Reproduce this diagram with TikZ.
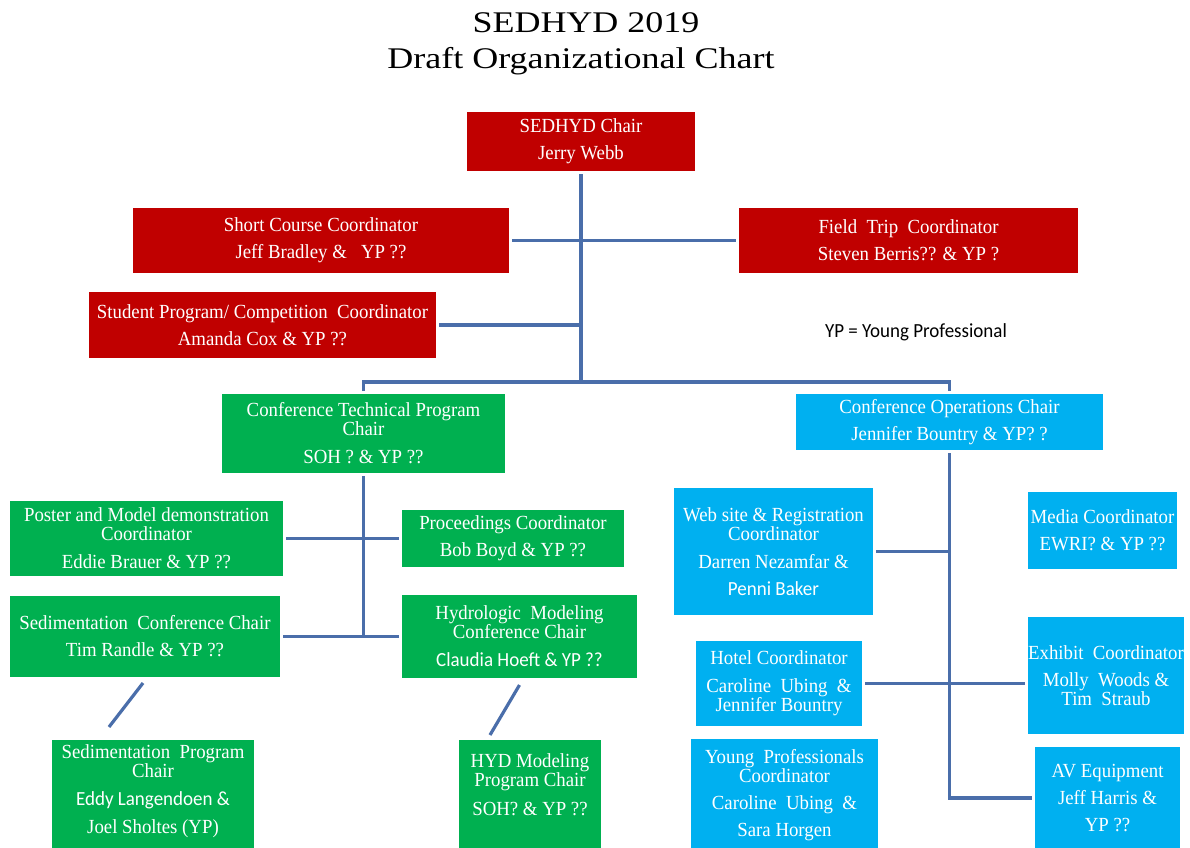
\documentclass[tikz,border=0pt]{standalone}
\usepackage{fontspec}
\setmainfont{Liberation Serif}[FakeStretch=0.94]
\newfontfamily\calibri{Carlito}[FakeStretch=0.95]
\newfontfamily\titlefont{Liberation Serif}[FakeStretch=1.2]
\usepackage{xcolor}
\usepackage{tikz}
\definecolor{chairred}{RGB}{192,0,0}
\definecolor{techgreen}{RGB}{0,176,80}
\definecolor{opsblue}{RGB}{0,176,240}
\definecolor{linkblue}{RGB}{74,110,170}

\begin{document}
\begin{tikzpicture}[x=0.5pt, y=-0.5pt,
    box/.style={rectangle, text=white, align=center, inner sep=0pt, outer sep=1.5pt, font=\fontsize{10}{9.5}\selectfont},
    redbox/.style={box, fill=chairred},
    greenbox/.style={box, fill=techgreen},
    bluebox/.style={box, fill=opsblue},
    link/.style={draw=linkblue, line width=1.6pt}]
  \fill[white] (0,0) rectangle (1190,847);
  \useasboundingbox (0,0) rectangle (1190,847);

  \node[anchor=base, font=\titlefont\fontsize{15}{18}\selectfont] (title1) at (586,32) {SEDHYD 2019};
  \node[anchor=base, font=\titlefont\fontsize{15}{18}\selectfont] (title2) at (581,68) {Draft Organizational Chart};

  \node[redbox, minimum width=114pt, minimum height=29.5pt] (chair) at (581,141.5) {SEDHYD Chair\\[4pt]Jerry Webb};
  \node[redbox, minimum width=188pt, minimum height=32.5pt] (short) at (321,240.5) {Short Course Coordinator\\[4pt]Jeff Bradley \&\ \ \ YP ??};
  \node[redbox, minimum width=169.5pt, minimum height=32.5pt] (field) at (908.5,240.5) {Field\ \ Trip\ \ Coordinator\\[4pt]Steven Berris?? \& YP ?};
  \node[redbox, minimum width=173.5pt, minimum height=33pt] (student) at (262.5,325) {Student Program/ Competition\ \ Coordinator\\[4pt]Amanda Cox \& YP ??};
  \node[anchor=base, font=\calibri\fontsize{10}{12}\selectfont] (legend) at (916,337) {YP = Young Professional};

  \node[greenbox, minimum width=141.5pt, minimum height=39.5pt] (tech) at (363.5,433.5) {Conference Technical Program\\Chair\\[4.5pt]SOH ? \& YP ??};
  \node[greenbox, minimum width=136.5pt, minimum height=37.5pt] (poster) at (146.5,538.5) {Poster and Model demonstration\\Coordinator\\[4.5pt]Eddie Brauer \& YP ??};
  \node[greenbox, minimum width=111pt, minimum height=28.5pt] (proc) at (513,538.5) {Proceedings Coordinator\\[4pt]Bob Boyd \& YP ??};
  \node[greenbox, minimum width=135pt, minimum height=40.5pt] (sedconf) at (145,636.5) {Sedimentation\ \ Conference Chair\\[4pt]Tim Randle \& YP ??};
  \node[greenbox, minimum width=117.5pt, minimum height=41.5pt] (hydconf) at (519.5,636.5) {Hydrologic\ \ Modeling\\Conference Chair\\[4.5pt]{\calibri Claudia Hoeft \& YP ??}};
  \node[greenbox, minimum width=101pt, minimum height=60pt] (sedprog) at (153,800) {Sedimentation\ \ Program\\Chair\\[4.5pt]{\calibri Eddy Langendoen \&}\\[4.5pt]Joel Sholtes (YP)\\[1pt]\mbox{}};
  \node[greenbox, minimum width=71pt, minimum height=60pt] (hydprog) at (530,800) {HYD Modeling\\Program Chair\\[5pt]SOH? \& YP ??\\[6pt]\mbox{}};

  \node[bluebox, minimum width=153.5pt, minimum height=28pt] (ops) at (949.5,422) {Conference Operations Chair\\[4pt]Jennifer Bountry \& YP? ?};
  \node[bluebox, minimum width=99.5pt, minimum height=63.5pt] (web) at (773.5,551.5) {Web site \& Registration\\Coordinator\\[4.5pt]Darren Nezamfar \&\\[4pt]{\calibri Penni Baker}};
  \node[bluebox, minimum width=74.5pt, minimum height=38.5pt] (media) at (1102.5,530.5) {Media Coordinator\\[4pt]EWRI? \& YP ??};
  \node[bluebox, minimum width=83pt, minimum height=42.5pt] (hotel) at (779,683.5) {Hotel Coordinator\\[4.5pt]Caroline\ \ Ubing\ \ \&\\Jennifer Bountry};
  \node[bluebox, minimum width=77pt, minimum height=58.5pt] (exhibit) at (1106,675.5) {Exhibit\ \ Coordinator\\[4pt]Molly\ \ Woods \&\\Tim\ \ Straub};
  \node[bluebox, minimum width=93.5pt, minimum height=56pt] (yp) at (784.5,795) {Young\ \ Professionals\\Coordinator\\[4pt]Caroline\ \ Ubing\ \ \&\\[4pt]Sara Horgen};
  \node[bluebox, minimum width=72.5pt, minimum height=51pt] (av) at (1107.5,798) {AV Equipment\\[4pt]Jeff Harris \&\\[4pt]YP ??};

  \coordinate (split) at (581,382);
  \draw[link] (chair.south) -- (split);
  \draw[link] (tech.north) |- (split) -| (ops.north);
  \draw[link] (student) -- (student -| split);
  \foreach \a/\b in {short/field, poster/proc, sedconf/hydconf}{%
    \draw[link] (\a) -- (\b);
  }
  \draw[link] (tech.south) -- (tech.south |- sedconf);
  \draw[link] ([shift={(-2,3)}]sedconf.south) -- ([shift={(-44,-10)}]sedprog.north);
  \draw[link] ([shift={(0,4)}]hydconf.south) -- ([shift={(-40,-2)}]hydprog.north);
  \draw[link] (ops.south) |- (av);
  \draw[link] (web) -- (web -| ops.south);
  \draw[link] (hotel) -- (hotel -| exhibit.west);
\end{tikzpicture}
\end{document}
